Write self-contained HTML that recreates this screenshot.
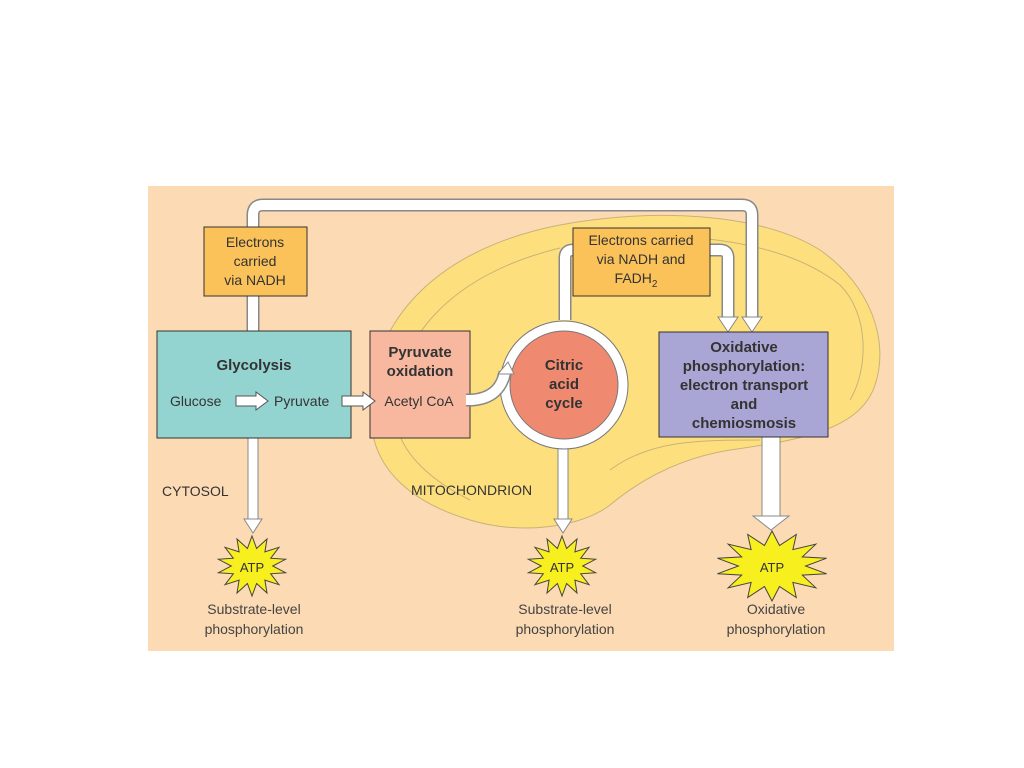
<!DOCTYPE html>
<html><head><meta charset="utf-8"><style>
html,body{margin:0;padding:0;background:#fff;}
svg{display:block;font-family:"Liberation Sans",sans-serif;}
</style></head><body>
<svg width="1024" height="768" viewBox="0 0 1024 768" xmlns="http://www.w3.org/2000/svg">
<rect x="148" y="186" width="746" height="465" fill="#fcdab3"/>
<!-- mitochondrion -->
<path d="M372,430 C360,330 430,250 560,225 C650,208 760,212 820,250 C870,285 890,340 875,385 C860,430 800,440 730,450 C680,458 640,480 610,505 C580,528 520,535 470,520 C410,502 378,470 372,430 Z" fill="#fde07d" stroke="#c9b27a" stroke-width="1"/>
<path d="M395,420 C392,340 450,275 560,248 M610,240 C700,230 790,245 840,285 C870,315 868,370 850,400 M470,500 C430,480 405,455 398,430 M610,470 C650,440 700,440 760,440" fill="none" stroke="#c9b27a" stroke-width="1"/>
<!-- top pipe -->
<path d="M253,331 L253,215 Q253,205 263,205 L742,205 Q752,205 752,215 L752,318" fill="none" stroke="#888" stroke-width="13"/>
<path d="M253,331 L253,215 Q253,205 263,205 L742,205 Q752,205 752,215 L752,318" fill="none" stroke="#fff" stroke-width="10"/>
<polygon points="742,317 762,317 752,332" fill="#fff" stroke="#888"/>
<!-- pipe circle->box2 and box2->ox -->
<path d="M565,320 L565,258 Q565,250 573,250 M710,250 L720,250 Q728,250 728,258 L728,318" fill="none" stroke="#888" stroke-width="13"/>
<path d="M565,320 L565,258 Q565,250 573,250 M710,250 L720,250 Q728,250 728,258 L728,318" fill="none" stroke="#fff" stroke-width="10"/>
<polygon points="718,317 738,317 728,332" fill="#fff" stroke="#888"/>
<!-- down arrows -->
<rect x="248" y="438" width="10" height="82" fill="#fff" stroke="#888"/>
<polygon points="244,519 262,519 253,533" fill="#fff" stroke="#888"/>
<rect x="558" y="446" width="10" height="74" fill="#fff" stroke="#888"/>
<polygon points="554,519 572,519 563,533" fill="#fff" stroke="#888"/>
<rect x="762" y="437" width="18" height="80" fill="#fff" stroke="#888"/>
<polygon points="753,516 789,516 771,530" fill="#fff" stroke="#888"/>
<!-- boxes -->
<rect x="204" y="227" width="103" height="69" fill="#fbc25a" stroke="#333"/>
<text font-size="14" fill="#333" text-anchor="middle"><tspan x="255" y="247">Electrons</tspan><tspan x="255" y="266">carried</tspan><tspan x="255" y="285">via NADH</tspan></text>
<rect x="157" y="331" width="194" height="107" fill="#94d4d0" stroke="#333"/>
<text x="254" y="370" font-size="15" font-weight="bold" fill="#333" text-anchor="middle">Glycolysis</text>
<text x="170" y="406" font-size="14" fill="#333">Glucose</text>
<text x="274" y="406" font-size="14" fill="#333">Pyruvate</text>
<polygon points="236,396 256,396 256,392 268,401 256,410 256,406 236,406" fill="#fff" stroke="#555"/>
<rect x="370" y="331" width="100" height="107" fill="#f8b8a0" stroke="#333"/>
<text font-size="15" font-weight="bold" fill="#333" text-anchor="middle"><tspan x="420" y="357">Pyruvate</tspan><tspan x="420" y="376">oxidation</tspan></text>
<text x="419" y="406" font-size="14" fill="#333" text-anchor="middle">Acetyl CoA</text>
<polygon points="342,396 363,396 363,392 375,401 363,410 363,406 342,406" fill="#fff" stroke="#555"/>
<!-- circle -->
<circle cx="564" cy="385" r="64" fill="#fff" stroke="#777"/>
<circle cx="564" cy="385" r="54" fill="#ef8a70" stroke="#777"/>
<path d="M466,400 L472,400 Q500,398 505,372" fill="none" stroke="#888" stroke-width="13"/>
<path d="M466,400 L472,400 Q500,398 505,372" fill="none" stroke="#fff" stroke-width="10"/>
<polygon points="498,374 514,374 508,362" fill="#fff" stroke="#888"/>
<text font-size="15" font-weight="bold" fill="#333" text-anchor="middle"><tspan x="564" y="370">Citric</tspan><tspan x="564" y="389">acid</tspan><tspan x="564" y="408">cycle</tspan></text>
<rect x="573" y="228" width="137" height="68" fill="#fbc25a" stroke="#333"/>
<text font-size="14" fill="#333" text-anchor="middle"><tspan x="641" y="245">Electrons carried</tspan><tspan x="641" y="264">via NADH and</tspan><tspan x="636" y="283">FADH</tspan><tspan font-size="10" dy="4">2</tspan></text>
<rect x="659" y="332" width="169" height="105" fill="#a9a5d4" stroke="#333"/>
<text font-size="15" font-weight="bold" fill="#333" text-anchor="middle"><tspan x="744" y="352">Oxidative</tspan><tspan x="744" y="371">phosphorylation:</tspan><tspan x="744" y="390">electron transport</tspan><tspan x="744" y="409">and</tspan><tspan x="744" y="428">chemiosmosis</tspan></text>
<text x="162" y="496" font-size="14" fill="#333">CYTOSOL</text>
<text x="411" y="495" font-size="14" fill="#333">MITOCHONDRION</text>
<g id="stars"></g>
<text font-size="13" fill="#333" text-anchor="middle"><tspan x="252" y="572">ATP</tspan><tspan x="562" y="572">ATP</tspan><tspan x="772" y="572">ATP</tspan></text>
<text font-size="14" fill="#444" text-anchor="middle"><tspan x="254" y="614">Substrate-level</tspan><tspan x="254" y="634">phosphorylation</tspan><tspan x="565" y="614">Substrate-level</tspan><tspan x="565" y="634">phosphorylation</tspan><tspan x="776" y="614">Oxidative</tspan><tspan x="776" y="634">phosphorylation</tspan></text>
</svg>
<script>
function star(cx,cy,ro,ri,rx,n){var p=[];for(var i=0;i<2*n;i++){var a=Math.PI*i/n-Math.PI/2;var r=i%2?ri:ro;p.push((cx+r*rx*Math.cos(a)).toFixed(1)+","+(cy+r*Math.sin(a)).toFixed(1));}
var e=document.createElementNS("http://www.w3.org/2000/svg","polygon");e.setAttribute("points",p.join(" "));e.setAttribute("fill","#f7ef1e");e.setAttribute("stroke","#444");document.getElementById("stars").appendChild(e);}
star(252,566,30,18,1.15,14);star(562,566,30,18,1.15,14);star(772,566,35,21,1.6,14);
</script>
</body></html>
